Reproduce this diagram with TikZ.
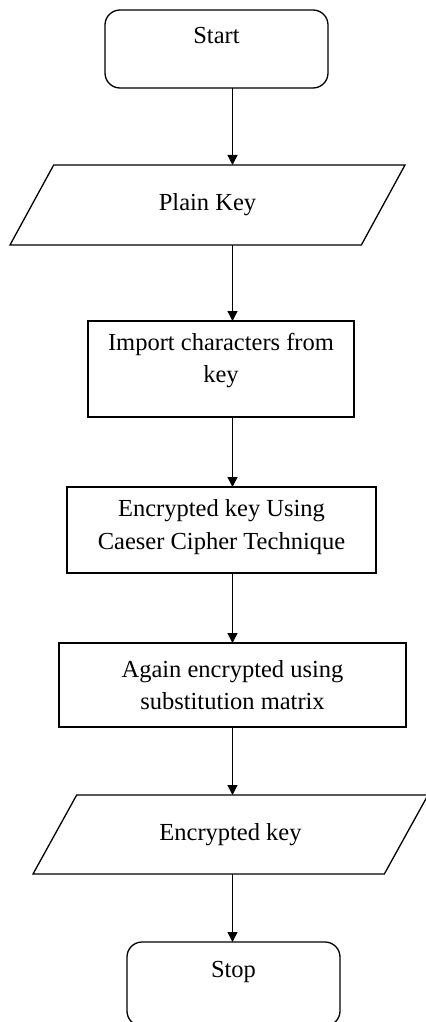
\documentclass[tikz,border=0pt]{standalone}
\usepackage{fontspec}
\setmainfont{Liberation Serif}
\usetikzlibrary{arrows.meta}
\usetikzlibrary{shapes.geometric}
\tikzset{>={Triangle[length=5pt,width=5pt]},
         every node/.style={font=\fontsize{12.25}{16.25}\selectfont, outer sep=0pt},
         terminal/.style={draw, rectangle, rounded corners=7.5pt,
                          text height=8pt, text depth=13pt},
         process/.style={draw, rectangle, align=center, inner sep=0pt},
         io/.style={draw, trapezium, trapezium left angle=39.2,
                    trapezium right angle=140.8, trapezium stretches body,
                    minimum width=197.5pt}}
\begin{document}
\begin{tikzpicture}[x=0.5pt, y=-0.5pt, line width=0.65pt]
  \useasboundingbox (0, 0) rectangle (425, 1022);
  \coordinate (spine) at (232.5, 0);
  \node [terminal, minimum width=111.5pt, minimum height=39pt] (start) at (216.5, 49) {Start};
  \node [io, minimum height=40pt] (plainkey) at (207.5, 205) {Plain Key};
  \node [process, minimum width=133pt, minimum height=48pt, text depth=11pt] (import) at (221, 369)
    {Import characters from\\key};
  \node [process, minimum width=154.5pt, minimum height=43pt, text depth=5.5pt] (caesar) at (221.5, 530)
    {Encrypted key Using\\Caeser Cipher Technique};
  \node [process, minimum width=173.5pt, minimum height=42pt] (substitution) at (232.5, 685)
    {Again encrypted using\\substitution matrix};
  \node [io, minimum height=39.5pt] (encrypted) at (230.5, 834.5) {Encrypted key};
  \node [terminal, minimum width=106.5pt, minimum height=42pt, text depth=15pt] (stop) at (233.5, 984) {Stop};
  \foreach \a/\b in {start/plainkey, plainkey/import, import/caesar,
                     caesar/substitution, substitution/encrypted, encrypted/stop}
    \draw [->] (\a.south -| spine) -- (\b.north -| spine);
\end{tikzpicture}
\end{document}
